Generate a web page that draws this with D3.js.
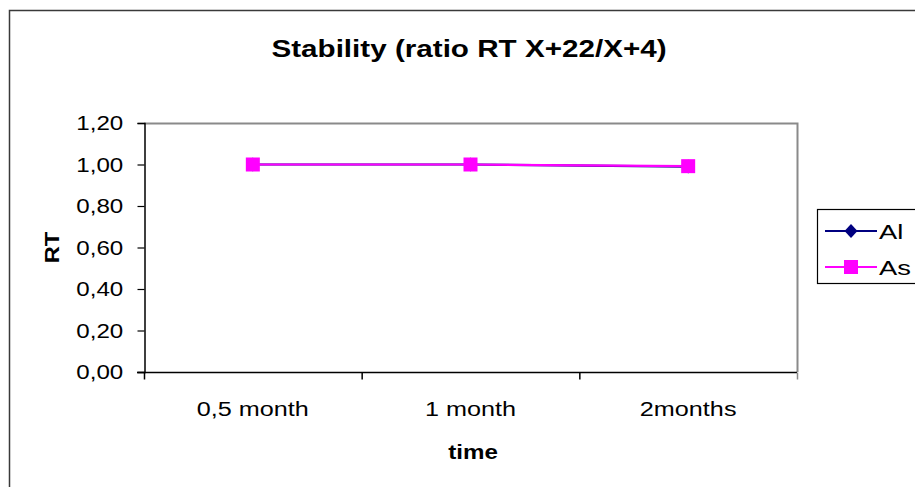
<!DOCTYPE html>
<html>
<head>
<meta charset="utf-8">
<script src="https://cdn.jsdelivr.net/npm/d3@7"></script>
<style>
  html, body { margin: 0; padding: 0; background: #fff; }
  svg { display: block; font-family: "Liberation Sans", Arial, sans-serif; }
</style>
</head>
<body>
<svg id="chart" width="915" height="487"></svg>
<script>
// Stability data: ratio RT X+22 / X+4 over storage time
const categories = ["0,5 month", "1 month", "2months"];
const seriesNames = ["Al", "As"];
const alValues = [1.00, 1.00, 0.99];
const asValues = [1.00, 1.00, 0.992];
const yTicks = [0, 0.2, 0.4, 0.6, 0.8, 1.0, 1.2];
const seriesColors = ["#000080", "#FF00FF"];

const svg = d3.select("#chart");

// wide, slightly stretched text, drawn at (x, y) and scaled horizontally
function label(parent, x, y, text, opts = {}) {
  const g = parent.append("g")
    .attr("transform", `translate(${x},${y}) scale(${opts.sx || 1.15},1)${opts.rotate ? " rotate(" + opts.rotate + ")" : ""}`);
  return g.append("text")
    .attr("text-anchor", opts.anchor || "middle")
    .attr("font-size", opts.size || 21)
    .attr("font-weight", opts.bold ? "bold" : "normal")
    .attr("fill", "#000")
    .text(text);
}

// outer chart frame (extends past the right and bottom edges)
svg.append("rect")
  .attr("x", 9.5).attr("y", 10.5)
  .attr("width", 1000).attr("height", 1000)
  .attr("fill", "#fff").attr("stroke", "#3a3a3a").attr("stroke-width", 1.5);

const plot = { left: 144, top: 123, right: 797, bottom: 372 };

const x = d3.scaleBand()
  .domain(categories)
  .range([plot.left, plot.right])
  .paddingInner(0).paddingOuter(0);

const y = d3.scaleLinear()
  .domain([0, 1.2])
  .range([plot.bottom, plot.top]);

// plot area frame: grey top/right edges
svg.append("path")
  .attr("d", `M${plot.left},${plot.top + 0.5}H${plot.right + 0.5}V${plot.bottom}`)
  .attr("fill", "none").attr("stroke", "#8a8a8a").attr("stroke-width", 2);

// y axis
const ySx = 1.15;
const yAxis = d3.axisLeft(y)
  .tickValues(yTicks)
  .tickSize(7)
  .tickPadding(11.5)
  .tickFormat(d => d3.format(".2f")(d).replace(".", ","));
const gy = svg.append("g")
  .attr("transform", `translate(${plot.left + 0.5},0)`)
  .call(yAxis);
gy.select(".domain").attr("stroke", "#000").attr("stroke-width", 1.5);
gy.selectAll(".tick line").attr("stroke", "#000").attr("stroke-width", 1.2);
gy.selectAll(".tick text")
  .attr("font-size", 21).attr("fill", "#000")
  .attr("transform", `scale(${ySx},1)`);

// x axis: ticks sit on category boundaries
const boundaries = categories.map(c => x(c)).concat([x.range()[1]]);
const gx = svg.append("g").attr("transform", `translate(0,${plot.bottom + 0.5})`);
gx.append("line")
  .attr("x1", plot.left - 7).attr("x2", plot.right)
  .attr("stroke", "#000").attr("stroke-width", 1.5);
gx.selectAll("line.tk").data(boundaries).join("line")
  .attr("class", "tk")
  .attr("x1", d => d + 0.5).attr("x2", d => d + 0.5)
  .attr("y1", 0).attr("y2", 7)
  .attr("stroke", (d, i) => i === boundaries.length - 1 ? "#8a8a8a" : "#000")
  .attr("stroke-width", 1.5);
categories.forEach(c => {
  label(gx, x(c) + x.bandwidth() / 2, 43, c, { sx: 1.2 });
});

// titles
label(svg, 469, 57, "Stability (ratio RT X+22/X+4)", { size: 24, sx: 1.235, bold: true });
label(svg, 473, 459, "time", { bold: true, sx: 1.15 });
label(svg, 59, (plot.top + plot.bottom) / 2, "RT", { bold: true, sx: 1, rotate: -90 })
  .attr("transform", "scale(1.13,1)");

// series
const cx = c => x(c) + x.bandwidth() / 2;
const line = d3.line().x(d => cx(d.cat)).y(d => y(d.v));
const series = [alValues, asValues].map((vals, i) => ({
  name: seriesNames[i],
  color: seriesColors[i],
  points: categories.map((c, j) => ({ cat: c, v: vals[j] }))
}));

// near-square diamond marker (half-width 6.5, half-height 7)
const diamondType = {
  draw(ctx) {
    ctx.moveTo(0, -7); ctx.lineTo(6.5, 0); ctx.lineTo(0, 7); ctx.lineTo(-6.5, 0); ctx.closePath();
  }
};
const diamond = d3.symbol().type(diamondType);

series.forEach((s, i) => {
  svg.append("path")
    .datum(s.points)
    .attr("d", line)
    .attr("fill", "none")
    .attr("stroke", s.color)
    .attr("stroke-width", 2.2);
  if (i === 0) {
    svg.selectAll(null).data(s.points).join("path")
      .attr("transform", d => `translate(${cx(d.cat)},${y(d.v)})`)
      .attr("d", diamond)
      .attr("fill", s.color);
  } else {
    svg.selectAll(null).data(s.points).join("rect")
      .attr("x", d => cx(d.cat) - 7).attr("y", d => y(d.v) - 7)
      .attr("width", 14).attr("height", 14)
      .attr("fill", s.color);
  }
});

// legend
const lg = svg.append("g");
lg.append("rect")
  .attr("x", 817.5).attr("y", 209.5)
  .attr("width", 200).attr("height", 74)
  .attr("fill", "#fff").attr("stroke", "#000").attr("stroke-width", 1.2);
series.forEach((s, i) => {
  const ly = 231 + i * 36;
  lg.append("line")
    .attr("x1", 825).attr("x2", 877)
    .attr("y1", ly).attr("y2", ly)
    .attr("stroke", s.color).attr("stroke-width", 2.2);
  if (i === 0) {
    lg.append("path")
      .attr("transform", `translate(851,${ly})`)
      .attr("d", diamond)
      .attr("fill", s.color);
  } else {
    lg.append("rect")
      .attr("x", 844).attr("y", ly - 7)
      .attr("width", 14).attr("height", 14)
      .attr("fill", s.color);
  }
  label(lg, 879, ly + 7.5, s.name, { anchor: "start", sx: 1.3 });
});
</script>
</body>
</html>
